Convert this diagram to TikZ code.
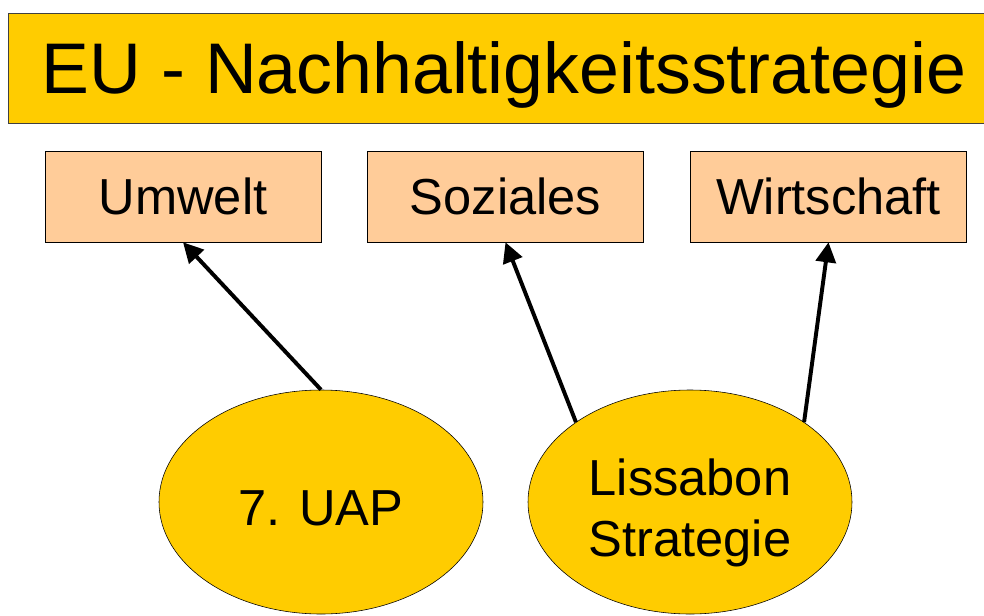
\documentclass[tikz,border=0pt]{standalone}
\usepackage{fontspec}
\setmainfont{Liberation Sans}
\usetikzlibrary{shapes.geometric,arrows.meta}
\definecolor{goldgelb}{HTML}{FFCC00}
\definecolor{pfirsich}{HTML}{FFCC99}
\tikzset{
    saeule/.style={draw=black, fill=pfirsich, minimum width=6.9cm, minimum height=2.275cm,
        font=\fontsize{36}{43}\selectfont},
    programm/.style={ellipse, draw=black, fill=goldgelb, minimum width=8.1cm, minimum height=5.6cm,
        inner sep=0pt, align=center, text depth=0pt, font=\fontsize{36}{43}\selectfont},
    pfeil/.style={->, line width=2.8pt}
}
\begin{document}
\begin{tikzpicture}[>={Triangle[length=5mm,width=5mm]}]
    \useasboundingbox (0,0) rectangle (24.6,15.375);
    \fill[white] (0,0) rectangle (24.6,15.375);

    % Kopfzeile
    \node[draw=black!75, fill=goldgelb, minimum width=24.8cm, minimum height=2.75cm,
        text height=1.28cm, text depth=0pt,
        font=\fontsize{51}{60}\selectfont] (titel) at (12.6,13.675) {EU - Nachhaltigkeitsstrategie};

    % drei Saeulen
    \node[saeule] (umwelt) at (4.575,10.4625) {Umwelt};
    \node[saeule] (soziales) at (12.6375,10.4625) {Soziales};
    \node[saeule] (wirtschaft) at (20.7125,10.4625) {Wirtschaft};

    % Programme
    \node[programm, text height=1.15cm] (uap) at (8.025,2.825) {7. UAP};
    \node[programm, text height=2.7cm] (lissabon) at (17.25,2.825) {Lissabon\\Strategie};

    \draw[pfeil] (uap.north) -- (umwelt.south);
    \draw[pfeil] (lissabon.145) -- (soziales.south);
    \draw[pfeil] (lissabon.35) -- (wirtschaft.south);
\end{tikzpicture}
\end{document}
